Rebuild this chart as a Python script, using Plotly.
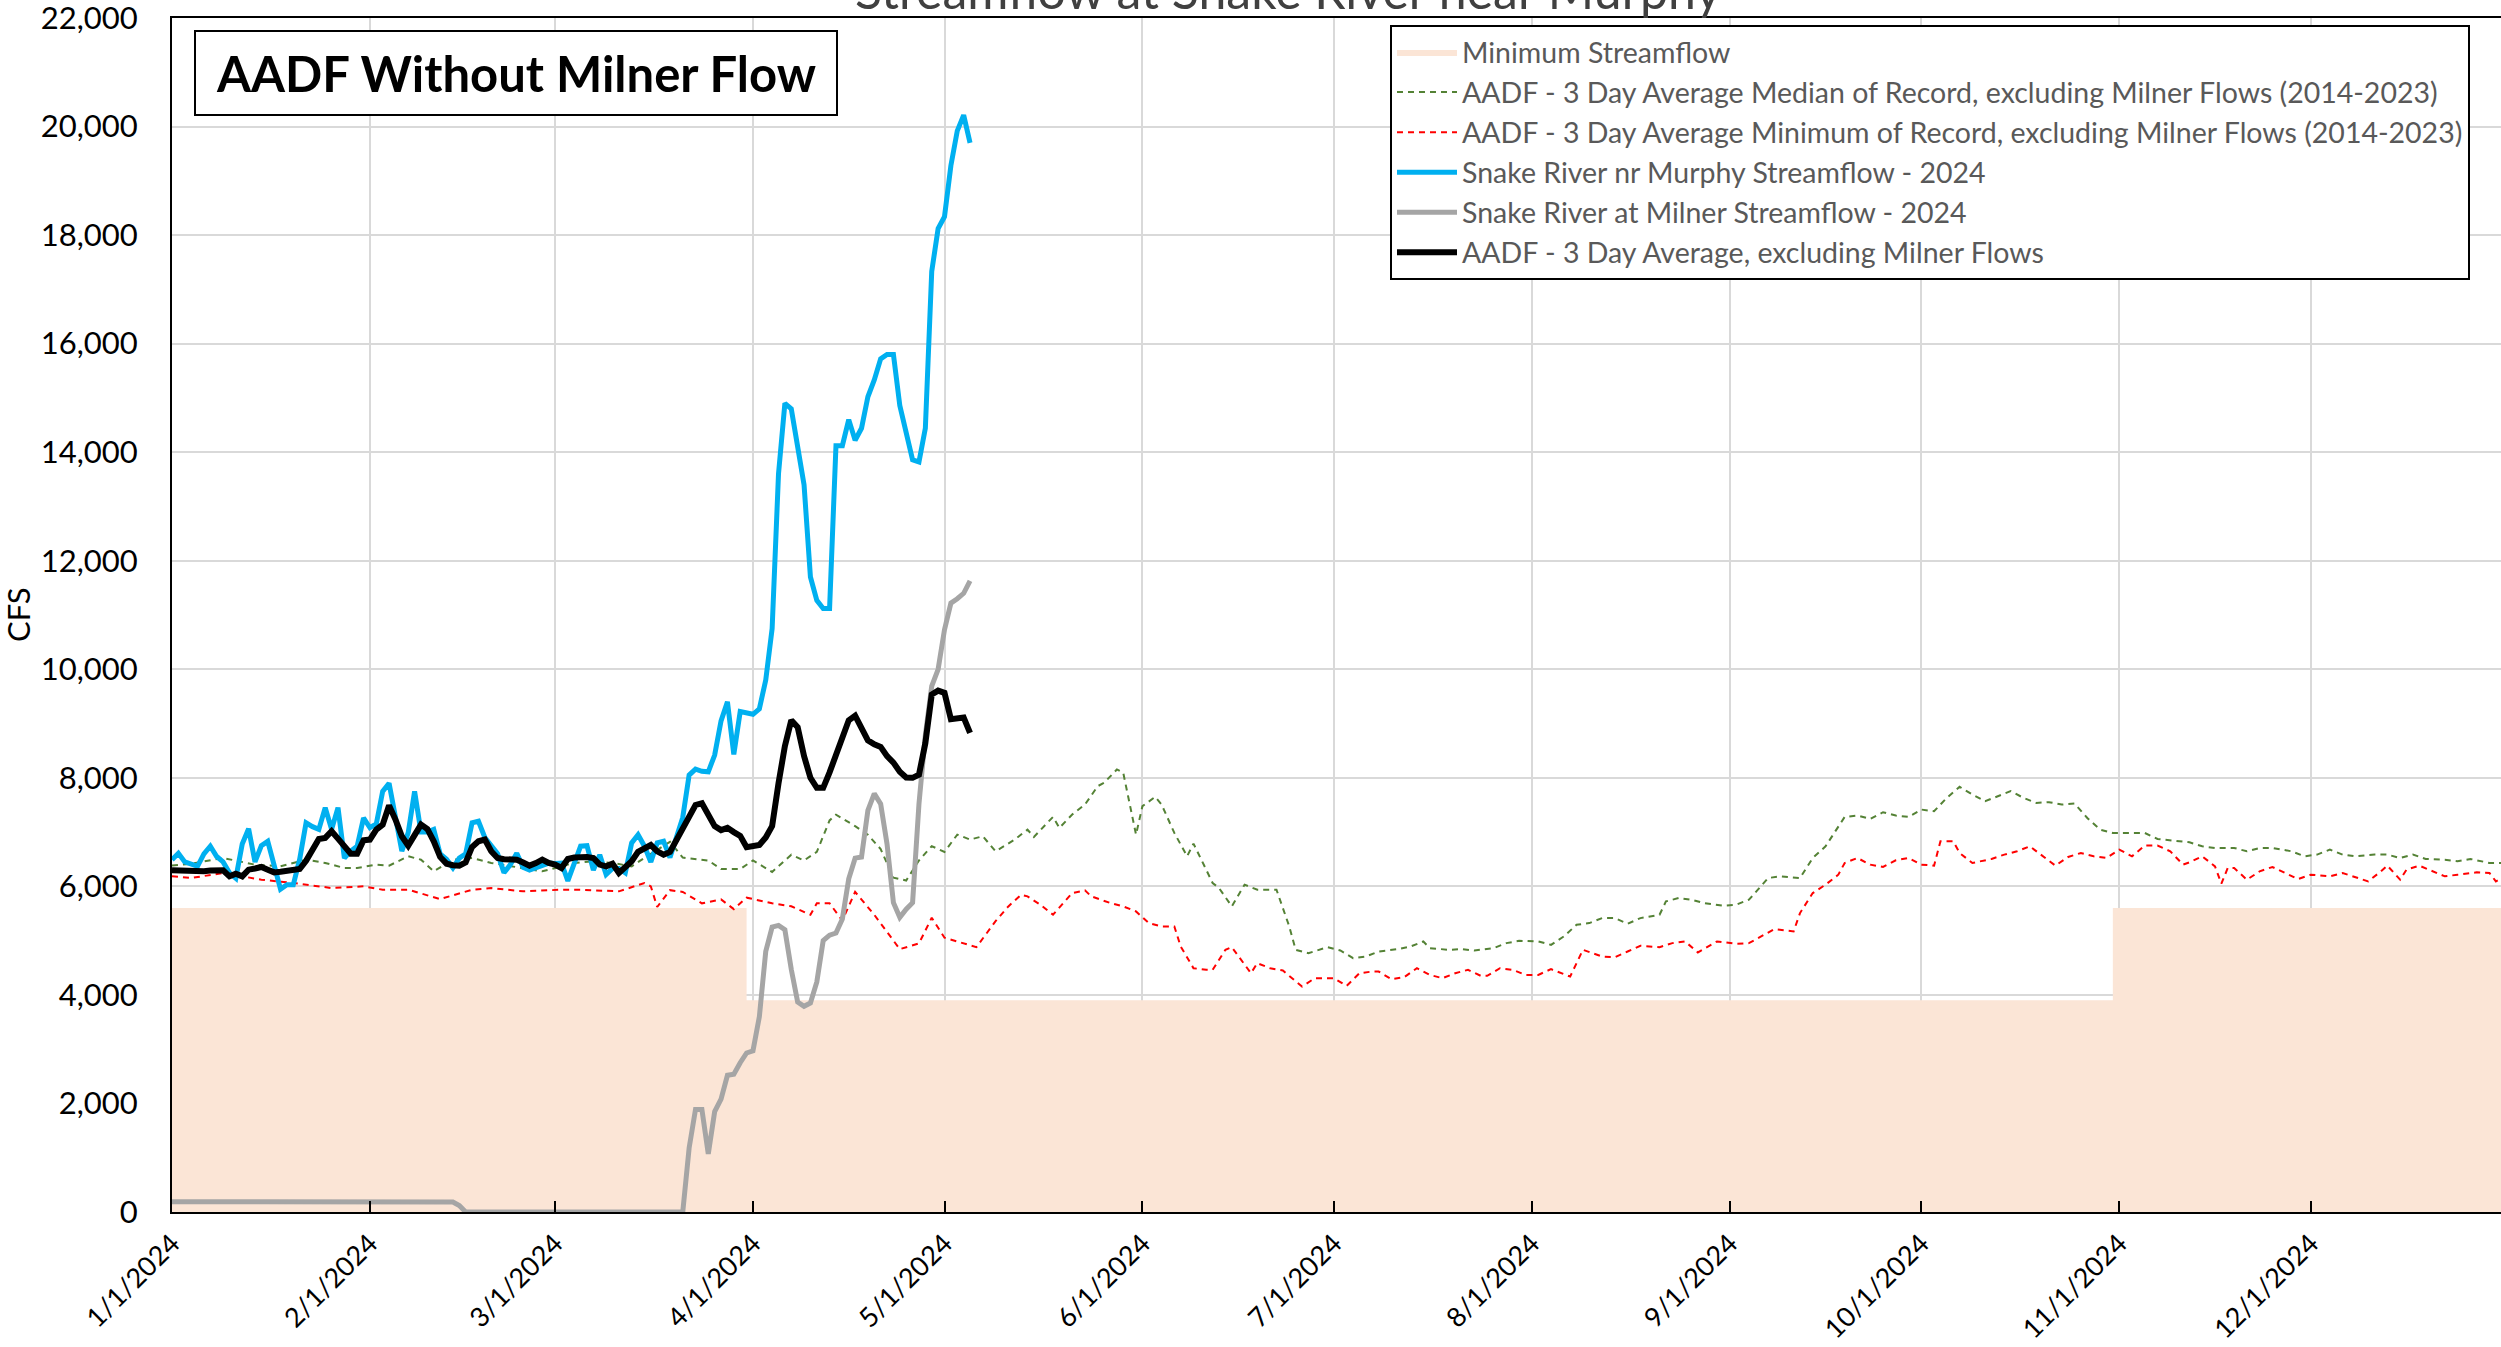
import pandas as pd
import plotly.graph_objects as go

BASE = pd.Timestamp("2024-01-01")

# ---- Minimum streamflow (step) ----
minflow_days = [0, 90, 304, 365]
minflow_vals = [5600, 3900, 5600, 5600]

# ---- Snake River nr Murphy streamflow 2024 (daily from Jan 1) ----
murphy_vals = [6490, 6610, 6450, 6400, 6370, 6600, 6740, 6550, 6450, 6250,
               6150, 6780, 7060, 6450, 6750, 6830, 6430, 5950, 6030, 6030,
               6500, 7170, 7100, 7050, 7450, 7050, 7450, 6520, 6650, 6740,
               7260, 7080, 7150, 7750, 7900, 7250, 6650, 6990, 7750, 7000,
               7000, 7050, 6600, 6500, 6340, 6520, 6600, 7170, 7200, 6900,
               6740, 6600, 6250, 6400, 6610, 6350, 6300, 6340, 6400, 6430,
               6420, 6430, 6100, 6400, 6740, 6750, 6300, 6580, 6220, 6330,
               6330, 6250, 6800, 6950, 6740, 6450, 6800, 6830, 6530, 6900,
               7270, 8050, 8160, 8120, 8110, 8420, 9050, 9400, 8430, 9220,
               9190, 9170, 9270, 9800, 10750, 13600, 14900, 14800, 14100, 13400,
               11700, 11270, 11120, 11120, 14120, 14120, 14600, 14220, 14440, 15020,
               15330, 15720, 15800, 15800, 14860, 14330, 13860, 13820, 14440, 17330,
               18120, 18340, 19280, 19920, 20210, 19700]

# ---- Snake River at Milner streamflow 2024 (daily from Jan 1) ----
milner_vals = [190, 190, 185, 185, 185, 185, 185, 185, 185, 180,
               180, 190, 185, 185, 190, 195, 185, 185, 185, 185,
               185, 185, 185, 185, 190, 190, 195, 185, 190, 185,
               190, 200, 190, 190, 185, 190, 185, 190, 190, 190,
               190, 190, 190, 190, 185, 120, 0, 0, 0, 0,
               0, 0, 0, 0, 0, 0, 0, 0, 0, 0,
               0, 0, 0, 0, 0, 0, 0, 0, 0, 0,
               0, 0, 0, 0, 0, 0, 0, 0, 0, 0,
               0, 1180, 1890, 1890, 1070, 1850, 2080, 2520, 2540, 2750,
               2930, 2970, 3600, 4800, 5250, 5280, 5200, 4470, 3870, 3790,
               3850, 4240, 5000, 5100, 5140, 5400, 6140, 6520, 6540, 7400,
               7710, 7520, 6780, 5700, 5430, 5580, 5700, 7520, 8790, 9690,
               10000, 10730, 11220, 11300, 11400, 11630]

# ---- AADF 3 day average, excluding Milner flows (daily from Jan 1) ----
aadf_vals = [6295, 6290, 6280, 6280, 6280, 6280, 6290, 6290, 6295, 6185,
             6234, 6185, 6308, 6330, 6357, 6308, 6258, 6270, 6290, 6308,
             6320, 6470, 6700, 6874, 6892, 7015, 6880, 6738, 6603, 6603,
             6849, 6862, 7046, 7138, 7489, 7231, 6923, 6751, 6954, 7138,
             7058, 6831, 6542, 6418, 6390, 6382, 6443, 6726, 6831, 6862,
             6646, 6523, 6500, 6492, 6492, 6440, 6382, 6430, 6492, 6431,
             6400, 6338, 6505, 6530, 6540, 6542, 6523, 6400, 6369, 6418,
             6246, 6369, 6462, 6635, 6700, 6762, 6646, 6583, 6635, 6850,
             7057, 7300, 7500, 7531, 7300, 7110, 7036, 7078, 7000, 6930,
             6720, 6740, 6762, 6899, 7110, 7900, 8585, 9060, 8933, 8400,
             8000, 7816, 7816, 8100, 8427, 8800, 9060, 9144, 8900, 8691,
             8617, 8570, 8400, 8280, 8111, 8005, 8000, 8058, 8638, 9534,
             9607, 9565, 9081, 9100, 9112, 8828]

# ---- 3 day average median of record (day of year, value) ----
median_days = [0, 3, 8, 13, 17, 21, 24, 27, 29, 32, 34, 37, 39, 41, 44, 47, 50, 55, 58, 63,
               66, 69, 72, 75, 78, 80, 84, 86, 89, 91, 94, 97, 99, 101, 103, 104, 107, 109, 111, 113,
               115, 117, 119, 121, 123, 125, 127, 129, 132, 134, 135, 138, 139, 141, 143, 145, 146, 148, 149, 151,
               152, 154, 155, 157, 159, 160, 163, 164, 166, 168, 170, 173, 175, 176, 178, 181, 183, 185, 187, 189,
               192, 194, 196, 197, 200, 202, 204, 207, 209, 211, 214, 216, 218, 220, 222, 224, 226, 228, 230, 233,
               234, 236, 238, 240, 243, 245, 247, 250, 252, 255, 257, 259, 262, 264, 266, 268, 270, 272, 274, 276,
               278, 280, 282, 284, 286, 288, 290, 292, 294, 296, 298, 300, 302, 304, 307, 309, 311, 313, 316, 318,
               320, 323, 325, 327, 329, 332, 334, 336, 338, 340, 342, 345, 347, 349, 351, 353, 356, 358, 360, 363,
               365]
median_vals = [6382, 6418, 6523, 6400, 6369, 6492, 6431, 6338, 6338, 6400, 6382, 6554, 6492, 6277, 6492, 6523, 6431, 6338, 6277, 6431,
               6462, 6431, 6369, 6600, 6820, 6530, 6477, 6319, 6319, 6477, 6266, 6583, 6477, 6635, 7215, 7321, 7110, 6951, 6688, 6161,
               6108, 6477, 6741, 6635, 6954, 6862, 6923, 6646, 6862, 7046, 6911, 7280, 7077, 7323, 7508, 7846, 7908, 8154, 8092, 6954,
               7477, 7649, 7508, 6985, 6554, 6788, 6062, 5969, 5631, 6031, 5938, 5938, 5262, 4831, 4769, 4880, 4818, 4677, 4708, 4800,
               4843, 4892, 4985, 4862, 4831, 4843, 4818, 4862, 4954, 4997, 4985, 4923, 5077, 5292, 5323, 5415, 5415, 5311, 5415, 5477,
               5723, 5785, 5754, 5692, 5643, 5662, 5754, 6154, 6185, 6154, 6523, 6738, 7280, 7305, 7243, 7366, 7305, 7280, 7415, 7385,
               7631, 7834, 7692, 7569, 7661, 7754, 7631, 7538, 7551, 7508, 7526, 7261, 7046, 6985, 6985, 6985, 6874, 6849, 6812, 6738,
               6708, 6708, 6646, 6708, 6708, 6646, 6554, 6585, 6677, 6585, 6554, 6585, 6585, 6523, 6585, 6505, 6492, 6462, 6505, 6431,
               6431]

# ---- 3 day average minimum of record (day of year, value) ----
minrec_days = [0, 3, 8, 14, 19, 25, 30, 33, 37, 42, 47, 50, 55, 61, 64, 70, 74, 75, 76, 78,
               80, 83, 86, 88, 90, 94, 97, 100, 101, 103, 105, 107, 110, 112, 114, 117, 119, 121, 124, 126,
               129, 131, 133, 134, 136, 138, 141, 143, 144, 147, 149, 151, 153, 155, 157, 158, 160, 162, 163, 165,
               166, 169, 170, 172, 174, 177, 179, 182, 184, 186, 188, 189, 191, 193, 195, 197, 199, 201, 203, 205,
               206, 208, 210, 212, 214, 216, 219, 221, 224, 226, 228, 230, 233, 235, 237, 239, 242, 245, 247, 249,
               251, 254, 255, 257, 259, 261, 262, 264, 266, 268, 270, 272, 274, 276, 277, 279, 280, 282, 285, 287,
               289, 291, 293, 295, 297, 299, 301, 303, 305, 307, 309, 311, 313, 315, 316, 318, 320, 321, 322, 323,
               325, 327, 329, 331, 333, 335, 338, 340, 342, 344, 346, 347, 349, 350, 352, 354, 356, 358, 361, 363,
               364, 365]
minrec_vals = [6185, 6154, 6246, 6123, 6062, 5969, 6000, 5938, 5938, 5766, 5938, 5969, 5908, 5938, 5938, 5908, 6062, 6000, 5620, 5930,
               5897, 5687, 5760, 5581, 5792, 5687, 5634, 5476, 5687, 5687, 5371, 5898, 5476, 5160, 4843, 4949, 5423, 5054, 4949, 4880,
               5360, 5631, 5846, 5815, 5662, 5477, 5877, 5926, 5815, 5692, 5631, 5538, 5323, 5262, 5262, 4892, 4492, 4462, 4462, 4831,
               4880, 4400, 4585, 4492, 4449, 4154, 4308, 4308, 4166, 4400, 4431, 4431, 4289, 4326, 4492, 4369, 4308, 4400, 4462, 4351,
               4351, 4492, 4462, 4369, 4369, 4474, 4338, 4831, 4708, 4695, 4800, 4905, 4880, 4954, 4985, 4782, 4985, 4942, 4954, 5077,
               5212, 5169, 5508, 5877, 6031, 6215, 6431, 6523, 6400, 6357, 6480, 6523, 6400, 6382, 6831, 6831, 6615, 6431, 6505, 6585,
               6646, 6738, 6554, 6382, 6542, 6615, 6554, 6523, 6677, 6554, 6751, 6751, 6646, 6400, 6443, 6554, 6369, 6049, 6338, 6338,
               6123, 6277, 6357, 6246, 6135, 6215, 6185, 6246, 6172, 6092, 6277, 6382, 6123, 6308, 6382, 6277, 6185, 6215, 6258, 6246,
               6092, 6150]

Y_TICKS = list(range(0, 22001, 2000))


def to_dates(days):
    return [BASE + pd.Timedelta(days=int(d)) for d in days]


daily_dates = to_dates(range(len(murphy_vals)))

FONT = "Lato, 'Open Sans', sans-serif"

fig = go.Figure()

fig.add_trace(go.Scatter(
    x=to_dates(minflow_days), y=minflow_vals, name="Minimum Streamflow",
    mode="lines", line=dict(width=0, shape="hv", color="#FBE5D6"),
    fill="tozeroy", fillcolor="#FBE5D6", hoverinfo="skip"))

fig.add_trace(go.Scatter(
    x=to_dates(median_days), y=median_vals,
    name="AADF - 3 Day Average Median of Record, excluding Milner Flows (2014-2023)",
    mode="lines", line=dict(color="#548235", width=2, dash="6px,5px")))

fig.add_trace(go.Scatter(
    x=to_dates(minrec_days), y=minrec_vals,
    name="AADF - 3 Day Average Minimum of Record, excluding Milner Flows (2014-2023)",
    mode="lines", line=dict(color="#FF0000", width=2, dash="6px,5px")))

fig.add_trace(go.Scatter(
    x=daily_dates, y=murphy_vals, name="Snake River nr Murphy Streamflow - 2024",
    mode="lines", line=dict(color="#00B0F0", width=5)))

fig.add_trace(go.Scatter(
    x=daily_dates, y=milner_vals, name="Snake River at Milner Streamflow - 2024",
    mode="lines", line=dict(color="#A5A5A5", width=5)))

fig.add_trace(go.Scatter(
    x=daily_dates, y=aadf_vals, name="AADF - 3 Day Average, excluding Milner Flows",
    mode="lines", line=dict(color="#000000", width=6)))

W, H = 2501, 1347
L, R, T = 172, 0, 18
B = H - 1212
PH = H - T - B
PW = W - L - R


def px(xp):   # page x (px) -> paper x
    return (xp - L) / PW


def py(yp):   # page y (px) -> paper y
    return 1 - (yp - T) / PH


fig.update_layout(
    width=W, height=H,
    margin=dict(l=L, r=R, t=T, b=B, autoexpand=False),
    paper_bgcolor="white", plot_bgcolor="white",
    font=dict(family=FONT, color="#000000", size=31),
    showlegend=True,
    legend=dict(
        x=px(1390), y=py(25),
        xanchor="left", yanchor="top",
        bgcolor="white", bordercolor="#000000", borderwidth=2,
        font=dict(family=FONT, size=28.5, color="#595959"),
        tracegroupgap=0, itemwidth=60,
    ),
    xaxis=dict(
        type="date", automargin=False,
        range=[BASE, BASE + pd.Timedelta(hours=364.8 * 24)],
        dtick="M1", tick0="2024-01-01", tickformat="%-m/%-d/%Y",
        tickangle=-45, ticks="inside", ticklen=11, tickwidth=2, tickcolor="#000000",
        ticklabelstandoff=3, ticklabeloverflow="allow",
        showgrid=True, gridcolor="#D9D9D9", gridwidth=2,
        showline=True, linecolor="#000000", linewidth=2, mirror=True,
        tickfont=dict(family=FONT, size=27, color="#000000"),
        zeroline=False,
    ),
    yaxis=dict(
        automargin=False,
        range=[0, 22000], tickvals=Y_TICKS, tickformat=",d",
        showgrid=True, gridcolor="#D9D9D9", gridwidth=2,
        showline=True, linecolor="#000000", linewidth=2,
        ticks="", ticklabelstandoff=26, ticklabeloverflow="allow",
        tickfont=dict(family=FONT, size=31, color="#000000"),
        zeroline=False,
    ),
)

# Chart title (partly cut off at the top of the page, as in the source)
fig.add_annotation(
    text="Streamflow at Snake River near Murphy", xref="paper", yref="paper",
    x=px(1288), y=1, xanchor="center", yanchor="bottom", yshift=-4,
    showarrow=False, font=dict(family=FONT, size=50, color="#404040"))

# Y-axis title
fig.add_annotation(
    text="CFS", xref="paper", yref="paper", x=px(18), y=0.5,
    xanchor="center", yanchor="middle", textangle=-90, showarrow=False,
    font=dict(family=FONT, size=31, color="#000000"))

# Boxed label
fig.add_shape(type="rect", xref="paper", yref="paper",
              x0=px(195), x1=px(837), y0=py(115), y1=py(31),
              line=dict(color="#000000", width=2), fillcolor="white", layer="above")
fig.add_annotation(
    text="<b>AADF Without Milner Flow</b>", xref="paper", yref="paper",
    x=px(516), y=py(73),
    xanchor="center", yanchor="middle", showarrow=False,
    font=dict(family=FONT, size=49, color="#000000"))

fig.write_html("out.html", config={"displayModeBar": False},
               post_script="document.body.style.margin='0';")
